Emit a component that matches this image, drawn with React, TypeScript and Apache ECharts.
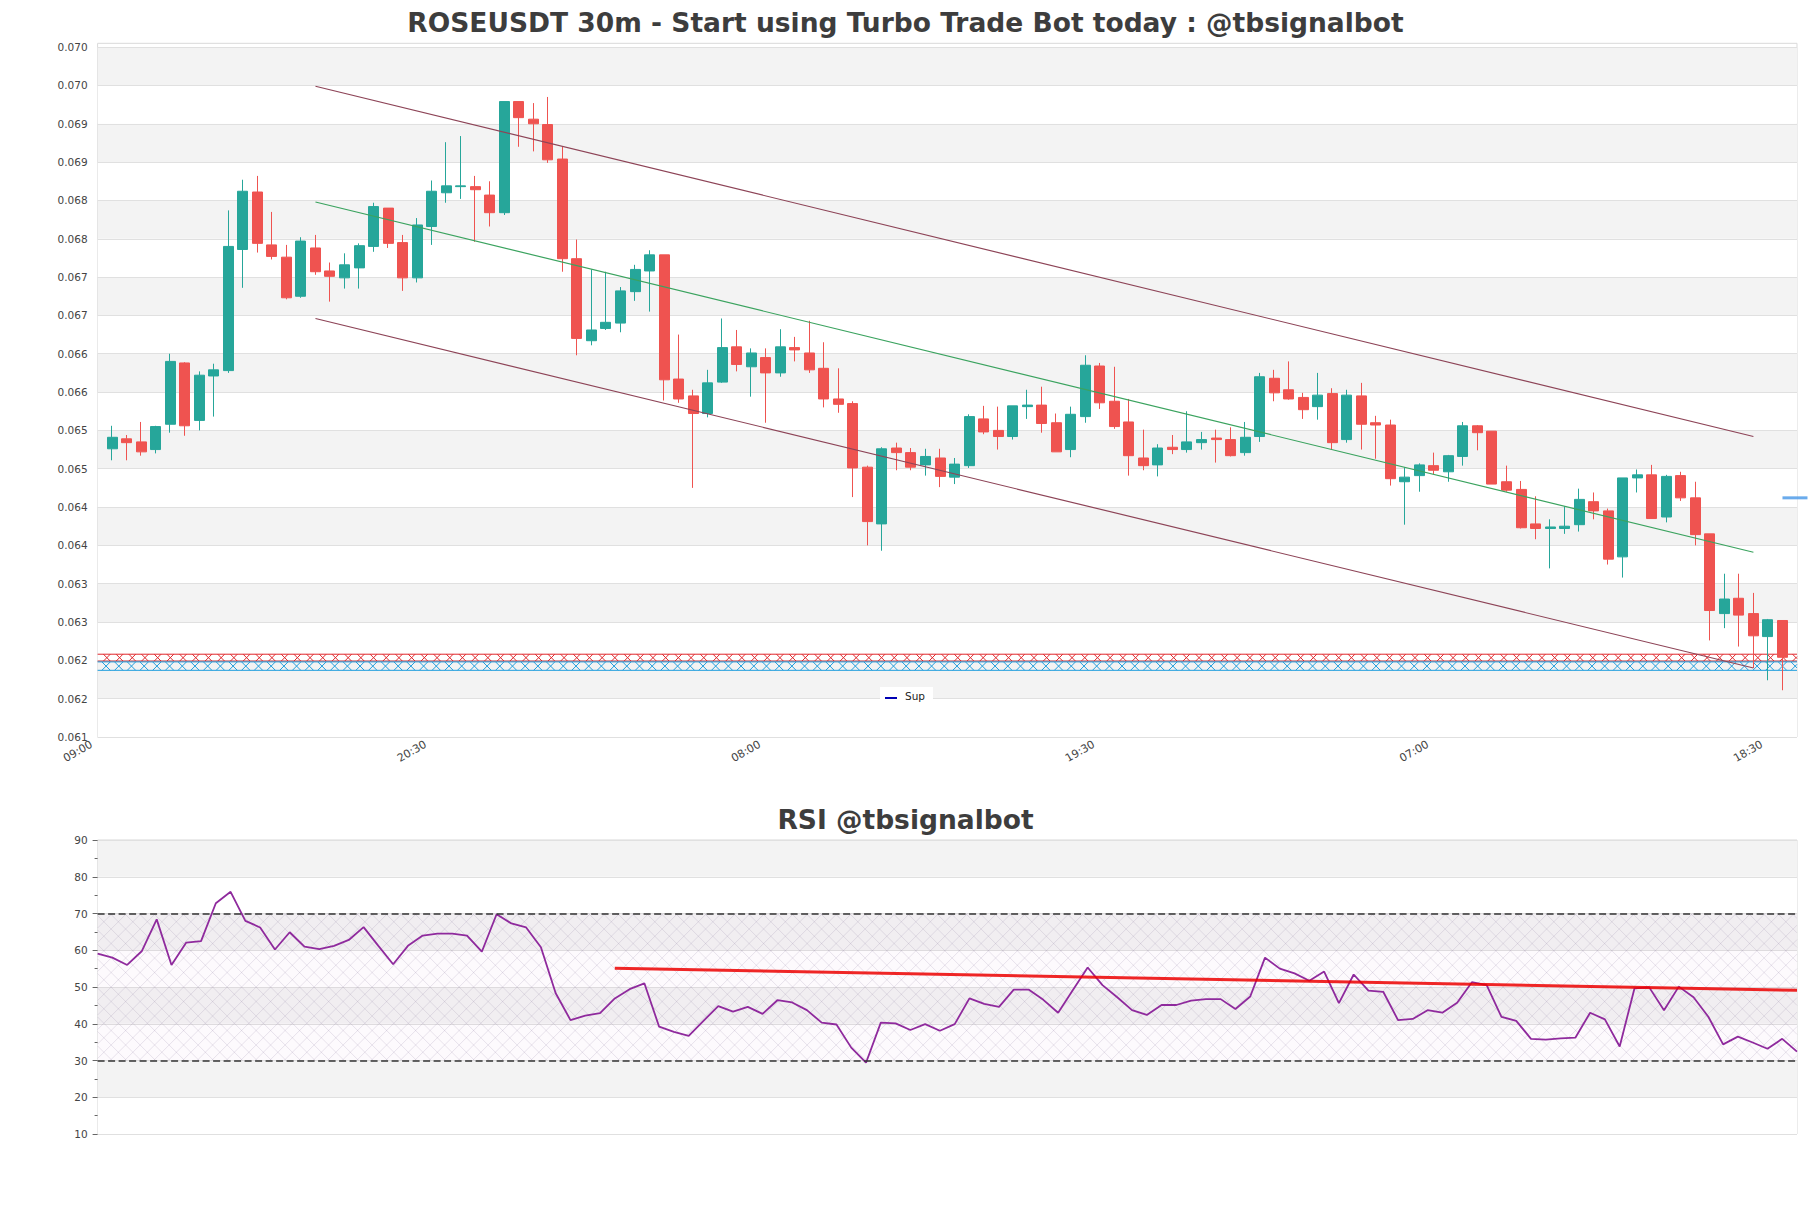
import React, { useEffect, useRef } from "react";
import * as echarts from "echarts";

const FONT = "'DejaVu Sans', sans-serif";

// ---- categories (30m candles, axis starts one slot before the first candle) ----
const START_MINUTES = 9 * 60; // 09:00
const SLOT_MINUTES = 30;
const AXIS_SLOTS = 118;
const mainCategories: string[] = [];
for (let k = 0; k < AXIS_SLOTS; k++) {
  const m = (START_MINUTES + k * SLOT_MINUTES) % (24 * 60);
  mainCategories.push(
    `${String(Math.floor(m / 60)).padStart(2, "0")}:${String(m % 60).padStart(2, "0")}`
  );
}
const rsiCategories = mainCategories.slice(1, 117);

// ---- price axis ticks ----
const priceTicks = [
  0.0612, 0.0617, 0.0622, 0.0627, 0.0632, 0.0637, 0.0642, 0.0647, 0.0652, 0.0657,
  0.0662, 0.0667, 0.0672, 0.0677, 0.0682, 0.0687, 0.0692, 0.0697, 0.0702,
];
const priceMin = 0.0612;
const priceMax = 0.07025;

// ---- candles: [open, close, low, high] ----
const ohlc: number[][] = [
  [0.06496, 0.06511, 0.06481, 0.06526],
  [0.06509, 0.06504, 0.06481, 0.06514],
  [0.06505, 0.06492, 0.06487, 0.06531],
  [0.06495, 0.06525, 0.0649, 0.06526],
  [0.06528, 0.0661, 0.06517, 0.0662],
  [0.06608, 0.06526, 0.06513, 0.06609],
  [0.06533, 0.06592, 0.0652, 0.06597],
  [0.06591, 0.06599, 0.06538, 0.06607],
  [0.06598, 0.0676, 0.06595, 0.06807],
  [0.06756, 0.06832, 0.06706, 0.06847],
  [0.06831, 0.06764, 0.06752, 0.06852],
  [0.06762, 0.06747, 0.06743, 0.06805],
  [0.06746, 0.06693, 0.06691, 0.06762],
  [0.06695, 0.06767, 0.06693, 0.06772],
  [0.06758, 0.06727, 0.06723, 0.06775],
  [0.06728, 0.06721, 0.06688, 0.06739],
  [0.06719, 0.06736, 0.06705, 0.06751],
  [0.06732, 0.06761, 0.06705, 0.06764],
  [0.0676, 0.06812, 0.06753, 0.06817],
  [0.0681, 0.06764, 0.06758, 0.0681],
  [0.06765, 0.06719, 0.06702, 0.06775],
  [0.06719, 0.06788, 0.06713, 0.06797],
  [0.06786, 0.06832, 0.06762, 0.06846],
  [0.0683, 0.06839, 0.06817, 0.06896],
  [0.06838, 0.06839, 0.06822, 0.06904],
  [0.06838, 0.06834, 0.06766, 0.06852],
  [0.06827, 0.06804, 0.06786, 0.06845],
  [0.06804, 0.06949, 0.06801, 0.06949],
  [0.06949, 0.06928, 0.0689, 0.06949],
  [0.06926, 0.0692, 0.06884, 0.06947],
  [0.06919, 0.06873, 0.06869, 0.06955],
  [0.06874, 0.06744, 0.06727, 0.0689],
  [0.06744, 0.0664, 0.06618, 0.06769],
  [0.06637, 0.06651, 0.06631, 0.0673],
  [0.06653, 0.06661, 0.06651, 0.06727],
  [0.0666, 0.06702, 0.06648, 0.06707],
  [0.06701, 0.0673, 0.06689, 0.06736],
  [0.06728, 0.06749, 0.06675, 0.06755],
  [0.06749, 0.06586, 0.06559, 0.06749],
  [0.06587, 0.06561, 0.06556, 0.06645],
  [0.06565, 0.06542, 0.06445, 0.06573],
  [0.06542, 0.06582, 0.06537, 0.06599],
  [0.06583, 0.06628, 0.06582, 0.06666],
  [0.06629, 0.06606, 0.06597, 0.06651],
  [0.06603, 0.06621, 0.06564, 0.06627],
  [0.06615, 0.06595, 0.0653, 0.06627],
  [0.06595, 0.06629, 0.0659, 0.06652],
  [0.06628, 0.06625, 0.0661, 0.06642],
  [0.06621, 0.06599, 0.06595, 0.06663],
  [0.06601, 0.06561, 0.0655, 0.06635],
  [0.06561, 0.06554, 0.06543, 0.06601],
  [0.06555, 0.06471, 0.06433, 0.06558],
  [0.06472, 0.06401, 0.0637, 0.06474],
  [0.06398, 0.06496, 0.06363, 0.06498],
  [0.06497, 0.06491, 0.06468, 0.06504],
  [0.06491, 0.06472, 0.06468, 0.06497],
  [0.06475, 0.06486, 0.06461, 0.06496],
  [0.06484, 0.0646, 0.06446, 0.06496],
  [0.06459, 0.06476, 0.0645, 0.06484],
  [0.06474, 0.06538, 0.06471, 0.06541],
  [0.06535, 0.06518, 0.06515, 0.06552],
  [0.0652, 0.06512, 0.06495, 0.06551],
  [0.06512, 0.06552, 0.06508, 0.06552],
  [0.06551, 0.06553, 0.06535, 0.06573],
  [0.06553, 0.06529, 0.06517, 0.06577],
  [0.0653, 0.06492, 0.06492, 0.06542],
  [0.06495, 0.06541, 0.06485, 0.06551],
  [0.06538, 0.06605, 0.0653, 0.06618],
  [0.06604, 0.06556, 0.06548, 0.06608],
  [0.06558, 0.06525, 0.06522, 0.06603],
  [0.06531, 0.06487, 0.06461, 0.06561],
  [0.06484, 0.06474, 0.06468, 0.06521],
  [0.06475, 0.06497, 0.0646, 0.06502],
  [0.06498, 0.06495, 0.06489, 0.06514],
  [0.06495, 0.06505, 0.06491, 0.06545],
  [0.06504, 0.06508, 0.06495, 0.06518],
  [0.0651, 0.06508, 0.06478, 0.06521],
  [0.06508, 0.06487, 0.06486, 0.06524],
  [0.06491, 0.06511, 0.06487, 0.06531],
  [0.06512, 0.0659, 0.06505, 0.06595],
  [0.06588, 0.06569, 0.06558, 0.06599],
  [0.06573, 0.06561, 0.0656, 0.0661],
  [0.06563, 0.06547, 0.06535, 0.06569],
  [0.06551, 0.06566, 0.06534, 0.06595],
  [0.06568, 0.06504, 0.06495, 0.06575],
  [0.06508, 0.06566, 0.06504, 0.06573],
  [0.06565, 0.06528, 0.06495, 0.06582],
  [0.0653, 0.06527, 0.06483, 0.06539],
  [0.06527, 0.06457, 0.06448, 0.06534],
  [0.06453, 0.06459, 0.06397, 0.06472],
  [0.06461, 0.06475, 0.0644, 0.06477],
  [0.06474, 0.06468, 0.06463, 0.06491],
  [0.06466, 0.06487, 0.06453, 0.06488],
  [0.06486, 0.06526, 0.06474, 0.06531],
  [0.06526, 0.06517, 0.06494, 0.06527],
  [0.06519, 0.0645, 0.0645, 0.06519],
  [0.06453, 0.06442, 0.0644, 0.06474],
  [0.06443, 0.06393, 0.06392, 0.06454],
  [0.06398, 0.06392, 0.06378, 0.06434],
  [0.06392, 0.06394, 0.0634, 0.06404],
  [0.06392, 0.06395, 0.06385, 0.06421],
  [0.06397, 0.0643, 0.06388, 0.06444],
  [0.06427, 0.06415, 0.06404, 0.06439],
  [0.06415, 0.06352, 0.06345, 0.06418],
  [0.06355, 0.06458, 0.06328, 0.06458],
  [0.06458, 0.06462, 0.06439, 0.06469],
  [0.06462, 0.06405, 0.06405, 0.06475],
  [0.06407, 0.0646, 0.064, 0.06462],
  [0.06461, 0.06432, 0.06428, 0.06466],
  [0.06432, 0.06384, 0.0637, 0.06453],
  [0.06385, 0.06285, 0.06246, 0.06385],
  [0.06281, 0.063, 0.06262, 0.06333],
  [0.06301, 0.06279, 0.06238, 0.06333],
  [0.06281, 0.06252, 0.0621, 0.06308],
  [0.06251, 0.06273, 0.06194, 0.06274],
  [0.06272, 0.06224, 0.06181, 0.06272],
];

// ---- channel lines: [slot index, value] endpoints ----
const upperChannel = [[15, 0.06969], [114, 0.06512]];
const midChannel = [[15, 0.06818], [114, 0.06361]];
const lowerChannel = [[15, 0.06666], [114, 0.0621]];

// ---- zones: [top, bottom] ----
const resistanceZone = [0.06228, 0.06219];
const supportZone = [0.06218, 0.06207];
const lastPriceMark = 0.06432;

// ---- RSI ----
const rsiValues = [
  59.1, 58.0, 56.0, 59.8, 68.4, 56.0, 62.1, 62.5, 72.8, 75.9,
  68.0, 66.2, 60.2, 64.9, 61.0, 60.3, 61.2, 62.8, 66.3, 61.2,
  56.2, 61.2, 64.0, 64.5, 64.5, 64.0, 59.6, 69.8, 67.3, 66.2,
  60.8, 48.3, 41.0, 42.2, 42.9, 46.9, 49.4, 51.0, 39.2, 37.8,
  36.7, 40.8, 44.8, 43.3, 44.6, 42.7, 46.4, 45.8, 43.7, 40.3,
  39.8, 33.5, 29.4, 40.3, 40.1, 38.3, 39.9, 38.1, 39.9, 46.9,
  45.4, 44.6, 49.3, 49.3, 46.5, 43.0, 49.2, 55.3, 50.5, 47.2,
  43.7, 42.4, 45.1, 45.1, 46.3, 46.7, 46.7, 44.0, 47.4, 58.0,
  55.0, 53.7, 51.7, 54.2, 45.6, 53.4, 49.0, 48.7, 41.0, 41.3,
  43.7, 43.0, 45.7, 51.3, 50.5, 41.9, 40.8, 35.9, 35.7, 36.0,
  36.2, 43.0, 41.2, 33.8, 49.6, 49.9, 43.7, 50.1, 47.2, 41.9,
  34.4, 36.5, 34.9, 33.2, 35.9, 32.4,
];
const rsiTrend = [[35, 55.1], [115, 49.1]];
const rsiLevels = [70, 30];

function hatchSegments(x0: number, y0: number, x1: number, y1: number, step: number) {
  const h = y1 - y0;
  const segs: number[][][] = [];
  for (let c = x0 - h; c <= x1; c += step) {
    const sx = Math.max(c, x0);
    const ex = Math.min(c + h, x1);
    if (ex > sx) {
      segs.push([[sx, y0 + (sx - c)], [ex, y0 + (ex - c)]]);
      segs.push([[sx, y1 - (sx - c)], [ex, y1 - (ex - c)]]);
    }
  }
  return segs;
}

export default function App() {
  const ref = useRef<HTMLDivElement>(null);

  useEffect(() => {
    document.body.style.margin = "0";
    if (!ref.current) return;
    const chart = echarts.init(ref.current, null, { renderer: "svg" });

    const zoneColors = ["#e0282d", "#1e9ddd"];

    const option: any = {
      animation: false,
      backgroundColor: "#ffffff",
      textStyle: { fontFamily: FONT },
      title: [
        {
          text: "ROSEUSDT 30m - Start using Turbo Trade Bot today : @tbsignalbot",
          left: "center",
          top: 9,
          padding: 0,
          textStyle: { fontSize: 26.5, fontWeight: "bold", color: "#3d3d3d", fontFamily: FONT },
        },
        {
          text: "RSI @tbsignalbot",
          left: "center",
          top: 805.5,
          padding: 0,
          textStyle: { fontSize: 26.5, fontWeight: "bold", color: "#3d3d3d", fontFamily: FONT },
        },
      ],
      grid: [
        { left: 97.6, right: 14, top: 43.3, height: 693.7, show: true, borderColor: "#d9d9d9", borderWidth: 1, outerBoundsMode: "none", containLabel: false },
        { left: 97.6, right: 14, top: 840, height: 294, show: true, borderColor: "#d9d9d9", borderWidth: 1, outerBoundsMode: "none", containLabel: false },
      ],
      xAxis: [
        {
          type: "category",
          gridIndex: 0,
          data: mainCategories,
          boundaryGap: false,
          axisLine: { show: false },
          axisTick: { show: false },
          splitLine: { show: false },
          axisLabel: {
            interval: 22,
            rotate: 30,
            fontSize: 11,
            color: "#444",
            margin: 3,
            padding: [0, 7, 0, 0],
            fontFamily: FONT,
            hideOverlap: false,
          },
        },
        {
          type: "category",
          gridIndex: 1,
          data: rsiCategories,
          boundaryGap: false,
          axisLine: { show: false },
          axisTick: { show: false },
          axisLabel: { show: false },
          splitLine: { show: false },
        },
      ],
      yAxis: [
        {
          type: "value",
          gridIndex: 0,
          min: priceMin,
          max: priceMax,
          axisLine: { show: false },
          axisTick: { show: false, customValues: priceTicks },
          axisLabel: {
            customValues: priceTicks,
            formatter: (v: number) => v.toFixed(3),
            fontSize: 10.5,
            color: "#444",
            margin: 10,
            fontFamily: FONT,
            showMinLabel: true,
            showMaxLabel: true,
          },
          splitLine: { show: true, lineStyle: { color: "#e0e0e0", width: 1 } },
          splitArea: { show: true, areaStyle: { color: ["#ffffff", "#f3f3f3"] } },
        },
        {
          type: "value",
          gridIndex: 1,
          min: 10,
          max: 90,
          interval: 10,
          axisLine: { show: false },
          axisTick: { show: true, length: 5, lineStyle: { color: "#666" } },
          minorTick: { show: true, splitNumber: 2, length: 3, lineStyle: { color: "#666" } },
          axisLabel: { fontSize: 10.5, color: "#444", margin: 10, fontFamily: FONT },
          splitLine: { show: true, lineStyle: { color: "#e0e0e0", width: 1 } },
          splitArea: { show: true, areaStyle: { color: ["#ffffff", "#f3f3f3"] } },
        },
      ],
      series: [
        {
          name: "zones",
          type: "custom",
          xAxisIndex: 0,
          yAxisIndex: 0,
          z: 1,
          silent: true,
          encode: { x: 0, y: [1, 2] },
          data: [
            [0, resistanceZone[0], resistanceZone[1]],
            [0, supportZone[0], supportZone[1]],
          ],
          renderItem: (params: any, api: any) => {
            const top = api.value(1);
            const bottom = api.value(2);
            const p0 = api.coord([0, top]);
            const p1 = api.coord([AXIS_SLOTS - 1, bottom]);
            const color = zoneColors[params.dataIndex % 2];
            const children: any[] = [];
            hatchSegments(p0[0], p0[1], p1[0], p1[1], 12.7).forEach((s) => {
              children.push({
                type: "line",
                shape: { x1: s[0][0], y1: s[0][1], x2: s[1][0], y2: s[1][1] },
                style: { stroke: color, lineWidth: 1 },
              });
            });
            children.push({ type: "line", shape: { x1: p0[0], y1: p0[1], x2: p1[0], y2: p0[1] }, style: { stroke: color, lineWidth: 1 } });
            children.push({ type: "line", shape: { x1: p0[0], y1: p1[1], x2: p1[0], y2: p1[1] }, style: { stroke: color, lineWidth: 1 } });
            return { type: "group", children };
          },
        },
        {
          name: "ROSEUSDT",
          type: "candlestick",
          xAxisIndex: 0,
          yAxisIndex: 0,
          z: 3,
          barWidth: 10.5,
          encode: { x: 0, y: [1, 2, 3, 4] },
          data: ohlc.map((c, i) => [i + 1, c[0], c[1], c[2], c[3]]),
          itemStyle: {
            color: "#26a69a",
            color0: "#ef5350",
            borderColor: "#26a69a",
            borderColor0: "#ef5350",
            borderWidth: 1,
          },
        },
        {
          name: "upper",
          type: "line",
          xAxisIndex: 0,
          yAxisIndex: 0,
          z: 4,
          symbol: "none",
          data: upperChannel,
          lineStyle: { color: "#8d4457", width: 1.2 },
        },
        {
          name: "mid",
          type: "line",
          xAxisIndex: 0,
          yAxisIndex: 0,
          z: 4,
          symbol: "none",
          data: midChannel,
          lineStyle: { color: "#3ba35f", width: 1.2 },
        },
        {
          name: "lower",
          type: "line",
          xAxisIndex: 0,
          yAxisIndex: 0,
          z: 4,
          symbol: "none",
          data: lowerChannel,
          lineStyle: { color: "#8d4457", width: 1.2 },
        },
        {
          name: "rsiZone",
          type: "custom",
          xAxisIndex: 1,
          yAxisIndex: 1,
          z: 1,
          silent: true,
          encode: { x: 0, y: [1, 2] },
          data: [[0, rsiLevels[0], rsiLevels[1]]],
          renderItem: (params: any, api: any) => {
            const p0 = api.coord([0, api.value(1)]);
            const p1 = api.coord([rsiValues.length - 1, api.value(2)]);
            const children: any[] = [
              {
                type: "rect",
                shape: { x: p0[0], y: p0[1], width: p1[0] - p0[0], height: p1[1] - p0[1] },
                style: { fill: "rgba(128,0,128,0.02)" },
              },
            ];
            hatchSegments(p0[0], p0[1], p1[0], p1[1], 14.5).forEach((s) => {
              children.push({
                type: "line",
                shape: { x1: s[0][0], y1: s[0][1], x2: s[1][0], y2: s[1][1] },
                style: { stroke: "rgba(130,110,150,0.22)", lineWidth: 0.8 },
              });
            });
            return { type: "group", children };
          },
        },
        {
          name: "RSI",
          type: "line",
          xAxisIndex: 1,
          yAxisIndex: 1,
          z: 4,
          symbol: "none",
          data: rsiValues,
          lineStyle: { color: "#8f2a9d", width: 1.8 },
          markLine: {
            silent: true,
            symbol: "none",
            label: { show: false },
            lineStyle: { color: "#333", type: [7, 3.5], width: 1.5 },
            data: rsiLevels.map((v) => ({ yAxis: v })),
          },
        },
        {
          name: "RSI trend",
          type: "line",
          xAxisIndex: 1,
          yAxisIndex: 1,
          z: 5,
          symbol: "none",
          data: rsiTrend,
          lineStyle: { color: "rgba(236,0,0,0.85)", width: 3 },
        },
      ],
    };

    chart.setOption(option);

    const markStart = chart.convertToPixel({ xAxisIndex: 0, yAxisIndex: 0 } as any, [AXIS_SLOTS - 2, lastPriceMark]) as number[];
    chart.setOption({
      graphic: [
        {
          type: "line",
          silent: true,
          z: 10,
          shape: { x1: markStart[0], y1: markStart[1], x2: markStart[0] + 25, y2: markStart[1] },
          style: { stroke: "#5aa2ea", lineWidth: 3, opacity: 0.9 },
        },
        {
          type: "group",
          left: 880,
          top: 687,
          z: 10,
          children: [
            { type: "rect", shape: { x: 0, y: 0, width: 53, height: 15 }, style: { fill: "#ffffff" } },
            { type: "line", shape: { x1: 5, y1: 11, x2: 17, y2: 11 }, style: { stroke: "#0000b4", lineWidth: 2 } },
            {
              type: "text",
              x: 25,
              y: 8.5,
              style: { text: "Sup", fontSize: 10.5, fill: "#222", fontFamily: FONT, textVerticalAlign: "middle", verticalAlign: "middle" },
            },
          ],
        },
      ],
    });

    return () => {
      chart.dispose();
    };
  }, []);

  return <div ref={ref} style={{ width: 1811, height: 1208 }} />;
}
